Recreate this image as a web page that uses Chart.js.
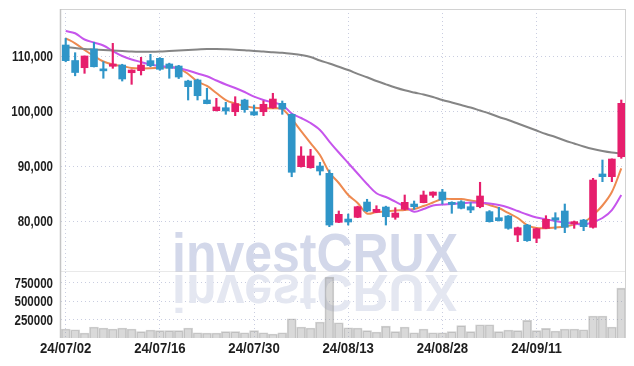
<!DOCTYPE html>
<html>
<head>
<meta charset="utf-8">
<script src="https://cdn.jsdelivr.net/npm/chart.js@4.4.1/dist/chart.umd.min.js"></script>
<style>
  html, body { margin: 0; padding: 0; background: #fff; }
  #wrap { position: relative; width: 634px; height: 366px; }
  #price { position: absolute; left: 0; top: 0; }
  #vol { position: absolute; left: 0; top: 272px; }
</style>
</head>
<body>
<div id="wrap">
  <canvas id="price" width="634" height="272"></canvas>
  <canvas id="vol" width="634" height="94"></canvas>
</div>
<script>
// ── data (daily candles, KRW) ─────────────────────────────────────────────
var dates = [
  '24/07/02','24/07/03','24/07/04','24/07/05','24/07/08','24/07/09','24/07/10','24/07/11','24/07/12','24/07/15',
  '24/07/16','24/07/17','24/07/18','24/07/19','24/07/22','24/07/23','24/07/24','24/07/25','24/07/26','24/07/29',
  '24/07/30','24/07/31','24/08/01','24/08/02','24/08/05','24/08/06','24/08/07','24/08/08','24/08/09','24/08/12',
  '24/08/13','24/08/14','24/08/16','24/08/19','24/08/20','24/08/21','24/08/22','24/08/23','24/08/26','24/08/27',
  '24/08/28','24/08/29','24/08/30','24/09/02','24/09/03','24/09/04','24/09/05','24/09/06','24/09/09','24/09/10',
  '24/09/11','24/09/12','24/09/13','24/09/19','24/09/20','24/09/23','24/09/24','24/09/25','24/09/26','24/09/27'
];
var openP = [
  112000,109180,107870,111270,107500,108130,108360,106960,107330,109150,
  109580,108550,108180,105450,105640,102000,100060,100600,99870,102000,
  99870,99870,100600,101400,99400,89880,89690,90000,88670,79760,
  80360,80670,83450,81580,82540,80670,82130,83090,83330,84670,
  85270,83400,83510,82600,82600,81700,80600,80910,77450,79270,
  76860,78670,80600,81820,79520,80180,78850,88550,88060,91690
];
var highP = [
  113200,110600,110000,112490,108960,112300,108500,107500,109760,110300,
  109700,108700,108300,105600,105800,104130,102300,101580,102600,102150,
  101090,101820,103220,101820,99500,93510,93030,90670,89270,81820,
  81270,82700,83950,82780,82700,82420,84730,83640,85450,85300,
  85760,83500,83700,83330,87040,81900,82490,81000,78900,79400,
  78700,80970,81510,83090,80000,80300,87760,91090,91300,102000
];
var lowP = [
  108950,106400,106850,108000,105950,107760,105450,104850,106550,108050,
  107400,105950,105900,102000,102000,101300,100000,99400,99150,99760,
  99200,99150,100500,99400,88050,89800,89600,88360,78970,79700,
  79270,80600,81700,81500,79270,80310,82000,82130,83300,84300,
  83090,81400,82200,81510,82400,79800,80000,78500,76240,76300,
  76060,78600,78500,77880,78670,78240,78700,87150,87150,91400
];
var closeP = [
  109150,107000,110000,108050,107300,108550,105820,107450,108360,108240,
  107580,107760,106180,104420,102780,101330,100730,100000,101330,100240,
  99270,101220,102180,100360,88860,91820,91820,89090,79270,81220,
  79820,82600,81820,82130,80780,81450,83400,82600,84730,85270,
  83820,83030,82310,82000,84550,79880,80060,78670,78780,76420,
  78610,80310,80180,78850,79880,78970,87450,88060,91270,101400
];
var volume = [
  122600,113000,68000,150000,136000,122600,136000,122600,86000,109000,
  99500,99500,99500,136000,72000,68000,68000,86000,86000,72000,
  99500,72000,54500,72000,263000,150000,136000,218000,831000,208000,
  140000,136000,99500,82000,163000,86000,150000,72000,122600,72000,
  72000,86000,168000,86000,181000,181000,86000,109000,99500,241000,
  99500,131000,95000,122600,122600,113000,300000,300000,150000,681000
];
// moving averages as drawn (orange / purple / grey)
var ma5 = [
  113220,112310,111090,110000,109000,108450,108180,107820,107730,107760,
  107850,108000,107760,106730,105360,104550,103270,102000,101360,100910,
  100580,100490,100490,100360,98550,96360,94180,92000,88820,86910,
  84730,83270,81370,81640,81730,81910,82000,82180,82730,83360,
  84000,84000,84000,83730,83450,82910,82360,81460,80550,79270,
  78730,78680,78820,79000,79370,79730,81090,82820,85270,89580
];
var ma20 = [
  114540,114130,113000,112450,111910,110910,110000,109360,108910,108450,
  108180,108000,107760,107360,106820,106310,105550,104820,104180,103450,
  102600,102000,101550,101090,99550,98730,97820,96550,94450,92450,
  90550,88640,86730,85040,84360,83510,82640,81690,82180,82820,
  83000,83090,83220,83360,83330,83180,82910,82450,81820,81180,
  80640,80310,80000,79730,79550,79360,79820,80550,82000,84730
];
var ma60 = [
  111600,111450,111270,111180,111090,111000,110910,110820,110780,110780,
  110820,110910,111000,111090,111180,111270,111270,111220,111150,111040,
  110910,110820,110690,110580,110400,110180,109820,109180,108640,108040,
  107450,106760,106130,105450,104850,104270,103760,103360,103000,102550,
  102000,101550,101090,100640,100090,99550,98910,98360,97730,97090,
  96450,95820,95270,94640,94090,93550,93090,92730,92450,92270
];
var priceTicks = [80000, 90000, 100000, 110000];
var volumeTicks = [250000, 500000, 750000];

var UP = '#e61e6c';
var DOWN = '#2f95c8';
var GRID = '#c9cde0';
var FRAME = '#d2d2d2';
var TXT = '#1e1e1e';
var LABEL_FONT = 'bold 15px "Liberation Sans", Arial, sans-serif';

function candleColor(i) { return closeP[i] >= openP[i] ? UP : DOWN; }

// vertical grid only on every 10th session (where a date label sits)
function xGridColor(c) { return c.index % 10 === 0 ? GRID : 'rgba(0,0,0,0)'; }

function fixedY(width, ticks) {
  return {
    afterFit: function (s) { s.width = width; s.paddingTop = 0; s.paddingBottom = 0; },
    afterBuildTicks: function (s) { s.ticks = ticks.map(function (v) { return { value: v }; }); }
  };
}
function fixedX(height) {
  return function (s) { s.height = height; s.paddingLeft = 0; s.paddingRight = 0; };
}

// condensed axis labels: the reference face is narrow, so squeeze Liberation Sans
function narrowText(ctx, str, x, y, sx, align) {
  ctx.save();
  ctx.translate(x, y);
  ctx.scale(sx, 1);
  ctx.textAlign = align;
  ctx.fillText(str, 0, 0);
  ctx.restore();
}

function labelsPlugin(fmtY, showX) {
  return {
    id: 'labels',
    afterDraw: function (chart) {
      var ctx = chart.ctx, ys = chart.scales.y, xs = chart.scales.x;
      ctx.save();
      ctx.font = LABEL_FONT;
      ctx.fillStyle = TXT;
      ctx.textBaseline = 'middle';
      ys.ticks.forEach(function (t) {
        narrowText(ctx, fmtY(t.value), 53, ys.getPixelForValue(t.value) + 1, 0.77, 'right');
      });
      if (showX) {
        dates.forEach(function (d, i) {
          if (i % 10) return;
          narrowText(ctx, d, xs.getPixelForValue(i), chart.chartArea.bottom + 11, 0.88, 'center');
        });
      }
      ctx.restore();
    }
  };
}

// box round each pane
function framePlugin(drawTop) {
  return {
    id: 'frame',
    afterDatasetsDraw: function (chart) {
      var a = chart.chartArea, ctx = chart.ctx;
      var l = Math.round(a.left) - 0.5, r = Math.round(a.right) - 0.5;
      var t = Math.round(a.top) + 0.5, b = Math.round(a.bottom) - 0.5;
      ctx.save();
      ctx.strokeStyle = FRAME;
      ctx.lineWidth = 1;
      ctx.beginPath();
      if (drawTop) { ctx.moveTo(l, t); ctx.lineTo(r, t); }
      ctx.moveTo(r, a.top); ctx.lineTo(r, a.bottom);
      if (drawTop) { ctx.moveTo(l, b + 0.5); ctx.lineTo(r, b + 0.5); }
      ctx.stroke();
      ctx.strokeStyle = '#c4c4c4';
      ctx.lineWidth = 1.5;
      ctx.beginPath(); ctx.moveTo(l, a.top); ctx.lineTo(l, a.bottom); ctx.stroke();
      ctx.restore();
    }
  };
}

var WM_TEXT = 'investCRUX';
function watermark(mirror) {
  return {
    id: 'wm',
    beforeDatasetsDraw: function (chart) {
      var a = chart.chartArea, ctx = chart.ctx;
      ctx.save();
      ctx.beginPath(); ctx.rect(a.left, a.top, a.right - a.left, a.bottom - a.top); ctx.clip();
      ctx.font = 'bold 56px "Liberation Sans", Arial, sans-serif';
      var w = ctx.measureText(WM_TEXT).width;
      if (mirror) {
        ctx.translate(172, 3);
        ctx.scale(286 / w, -0.92);
        ctx.fillStyle = '#e4e7f1';
      } else {
        ctx.translate(172, 272);
        ctx.scale(286 / w, 1);
        ctx.fillStyle = '#d3d8ea';
      }
      ctx.fillText(WM_TEXT, 0, 0);
      ctx.restore();
    }
  };
}

function lineSet(data, color) {
  return {
    type: 'line', data: data, borderColor: color, borderWidth: 2,
    pointRadius: 0, tension: 0.35, fill: false, order: 2
  };
}

var common = {
  responsive: false, animation: false, devicePixelRatio: 1,
  plugins: { legend: { display: false }, tooltip: { enabled: false } }
};

new Chart(document.getElementById('price'), {
  type: 'bar',
  data: {
    labels: dates,
    datasets: [
      lineSet(ma60, '#858585'),
      lineSet(ma20, '#c655ec'),
      lineSet(ma5, '#ee8a50'),
      {
        data: lowP.map(function (l, i) { return [l, highP[i]]; }),
        backgroundColor: function (c) { return candleColor(c.dataIndex); },
        barThickness: 1.5, grouped: false, order: 1
      },
      {
        data: openP.map(function (o, i) { return [o, closeP[i]]; }),
        backgroundColor: function (c) { return candleColor(c.dataIndex); },
        barThickness: 7, minBarLength: 2, grouped: false, order: 0
      }
    ]
  },
  options: Object.assign({}, common, {
    layout: { padding: { top: 9, right: 8, left: 0, bottom: 0 } },
    scales: {
      x: {
        offset: true,
        grid: { offset: false, color: xGridColor, drawTicks: false },
        border: { display: false, dash: [1, 3] },
        ticks: { display: false, autoSkip: false },
        afterFit: fixedX(0)
      },
      y: Object.assign({
        min: 70730, max: 118545,
        grid: { color: GRID, drawTicks: false },
        border: { display: false, dash: [1, 3] },
        ticks: { display: false }
      }, fixedY(61, priceTicks))
    }
  }),
  plugins: [watermark(false), framePlugin(true),
            labelsPlugin(function (v) { return v.toLocaleString('en-US'); }, false)]
});

new Chart(document.getElementById('vol'), {
  type: 'bar',
  data: {
    labels: dates,
    datasets: [{
      data: volume,
      backgroundColor: 'rgba(150,150,150,0.36)',
      borderColor: 'rgba(150,150,150,0.45)',
      borderWidth: 1, borderSkipped: 'bottom',
      barThickness: 9
    }]
  },
  options: Object.assign({}, common, {
    layout: { padding: { top: 0, right: 8, left: 0, bottom: 0 } },
    scales: {
      x: {
        offset: true,
        grid: { offset: false, color: xGridColor, drawTicks: false },
        border: { display: false, dash: [1, 3] },
        ticks: { display: false, autoSkip: false },
        afterFit: fixedX(28)
      },
      y: Object.assign({
        min: 0, max: 900000,
        grid: { color: GRID, drawTicks: false },
        border: { display: false, dash: [1, 3] },
        ticks: { display: false }
      }, fixedY(61, volumeTicks))
    }
  }),
  plugins: [watermark(true), framePlugin(false),
            labelsPlugin(function (v) { return String(v); }, true)]
});
</script>
</body>
</html>
